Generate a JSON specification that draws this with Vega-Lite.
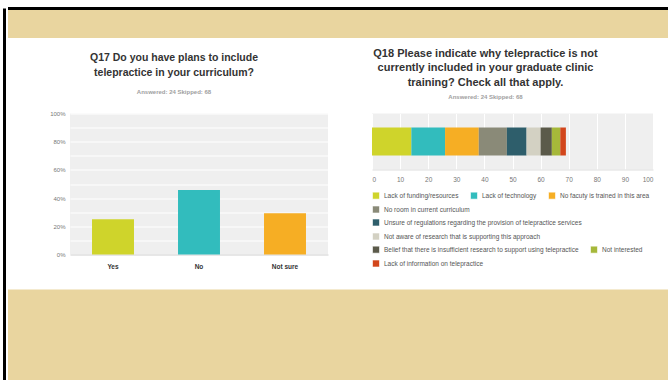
{
  "$schema": "https://vega.github.io/schema/vega-lite/v6.json",
  "background": "white",
  "padding": {"left": 3, "top": 6.5, "right": 0, "bottom": 0},
  "spacing": 0,
  "config": {
    "font": "Liberation Sans",
    "view": {"stroke": null},
    "legend": {
      "symbolType": "square",
      "symbolSize": 49,
      "symbolStrokeWidth": 0.6,
      "symbolStrokeColor": "white",
      "symbolOpacity": 1,
      "labelFontSize": 6.5,
      "labelColor": "#555555",
      "labelFont": "Liberation Sans",
      "labelLimit": 0,
      "labelOffset": 4,
      "columnPadding": 10,
      "padding": 0,
      "title": null
    }
  },
  "hconcat": [
    {
      "width": 3,
      "height": 380,
      "data": {"values": []},
      "mark": "point",
      "view": {"fill": "black", "stroke": null}
    },
    {
      "spacing": 8,
      "vconcat": [
        {
          "width": 662,
          "height": 29.5,
          "data": {"values": []},
          "mark": "point",
          "view": {"fill": "#e9d59f", "stroke": "black", "strokeWidth": 3, "strokeDash": [662, 721]}
        },
        {
          "spacing": 40,
          "hconcat": [
            {
              "width": 1,
              "height": 1,
              "data": {"values": []},
              "mark": "point"
            },
            {
              "width": 258,
              "height": 141,
              "view": {"fill": "#efefef", "stroke": null},
              "title": {
                "text": ["Q17 Do you have plans to include", "telepractice in your curriculum?"],
                "subtitle": "Answered: 24    Skipped: 68",
                "font": "Liberation Sans",
                "fontSize": 10.5,
                "fontWeight": "bold",
                "color": "#333333",
                "lineHeight": 15,
                "subtitleFont": "Liberation Sans",
                "subtitleFontSize": 6,
                "subtitleFontWeight": "bold",
                "subtitleColor": "#a0a0a0",
                "subtitlePadding": 10,
                "offset": 16,
                "dx": -25,
                "anchor": "middle"
              },
              "data": {"values": [
                {"answer": "Yes", "pct": 0.25},
                {"answer": "No", "pct": 0.4583},
                {"answer": "Not sure", "pct": 0.2917}
              ]},
              "mark": {"type": "bar"},
              "encoding": {
                "x": {
                  "field": "answer", "type": "nominal", "sort": null,
                  "scale": {"paddingInner": 0.512, "paddingOuter": 0.256},
                  "axis": {"title": null, "labelAngle": 0, "ticks": false, "domain": true, "domainColor": "#d0d0d0", "labelFontSize": 6.5, "labelFontWeight": "bold", "labelColor": "#333333", "labelPadding": 9}
                },
                "y": {
                  "field": "pct", "type": "quantitative",
                  "scale": {"domain": [0, 1]},
                  "axis": {"title": null, "values": [0, 0.1, 0.2, 0.3, 0.4, 0.5, 0.6, 0.7, 0.8, 0.9, 1], "format": ".0%", "labelExpr": "round(datum.value*10) % 2 == 0 ? datum.label : ''", "ticks": false, "domain": false, "gridColor": "white", "gridWidth": 1, "labelFontSize": 6, "labelColor": "#777777", "labelPadding": 5}
                },
                "color": {
                  "field": "answer", "type": "nominal", "legend": null,
                  "scale": {"domain": ["Yes", "No", "Not sure"], "range": ["#cfd42b", "#32bcbd", "#f6ae24"]}
                }
              }
            },
            {
              "width": 281,
              "height": 56,
              "view": {"fill": "#efefef", "stroke": null},
              "title": {
                "text": ["Q18 Please indicate why telepractice is not", "currently included in your graduate clinic", "training? Check all that apply."],
                "subtitle": "Answered: 24    Skipped: 68",
                "font": "Liberation Sans",
                "fontSize": 11,
                "fontWeight": "bold",
                "color": "#333333",
                "lineHeight": 14.5,
                "subtitleFont": "Liberation Sans",
                "subtitleFontSize": 6,
                "subtitleFontWeight": "bold",
                "subtitleColor": "#a0a0a0",
                "subtitlePadding": 6,
                "offset": 14,
                "dx": -27,
                "anchor": "middle"
              },
              "data": {"values": [
                {"q": "Q18", "reason": "Lack of funding/resources", "value": 14},
                {"q": "Q18", "reason": "Lack of technology", "value": 12},
                {"q": "Q18", "reason": "No facuty is trained in this area", "value": 12},
                {"q": "Q18", "reason": "No room in current curriculum", "value": 10},
                {"q": "Q18", "reason": "Unsure of regulations regarding the provision of telepractice services", "value": 7},
                {"q": "Q18", "reason": "Not aware of research that is supporting this approach", "value": 5},
                {"q": "Q18", "reason": "Belief that there is insufficient research to support using telepractice", "value": 4},
                {"q": "Q18", "reason": "Not interested", "value": 3},
                {"q": "Q18", "reason": "Lack of information on telepractice", "value": 2}
              ]},
              "transform": [
                {"stack": "value", "groupby": ["q"], "as": ["x0", "x1"]}
              ],
              "encoding": {
                "x": {
                  "field": "x0", "type": "quantitative",
                  "scale": {"domain": [0, 100]},
                  "axis": {"title": null, "values": [0, 10, 20, 30, 40, 50, 60, 70, 80, 90, 100], "ticks": false, "domainColor": "#dddddd", "gridColor": "white", "gridWidth": 1, "labelFontSize": 6.5, "labelColor": "#777777", "labelPadding": 7}
                },
                "x2": {"field": "x1"},
                "y": {"field": "q", "type": "nominal", "scale": {"paddingInner": 0, "paddingOuter": 0.5},
                  "axis": {"title": null, "labels": false, "domain": false, "grid": false, "ticks": true, "tickSize": 4, "tickOpacity": 0}}
              },
              "layer": [
                {
                  "transform": [{"filter": {"field": "reason", "oneOf": ["Lack of funding/resources", "Lack of technology", "No facuty is trained in this area"]}}],
                  "mark": "bar",
                  "encoding": {"color": {"field": "reason", "type": "nominal", "scale": {"domain": ["Lack of funding/resources", "Lack of technology", "No facuty is trained in this area"], "range": ["#cfd42b", "#32bcbd", "#f6ae24"]}, "legend": {"orient": "none", "direction": "horizontal", "legendX": 0, "legendY": 78}}}
                },
                {
                  "transform": [{"filter": {"field": "reason", "equal": "No room in current curriculum"}}],
                  "mark": "bar",
                  "encoding": {"color": {"field": "reason", "type": "nominal", "scale": {"domain": ["No room in current curriculum"], "range": ["#8a8a78"]}, "legend": {"orient": "none", "legendX": 0, "legendY": 92}}}
                },
                {
                  "transform": [{"filter": {"field": "reason", "equal": "Unsure of regulations regarding the provision of telepractice services"}}],
                  "mark": "bar",
                  "encoding": {"color": {"field": "reason", "type": "nominal", "scale": {"domain": ["Unsure of regulations regarding the provision of telepractice services"], "range": ["#2e5e6b"]}, "legend": {"orient": "none", "legendX": 0, "legendY": 105}}}
                },
                {
                  "transform": [{"filter": {"field": "reason", "equal": "Not aware of research that is supporting this approach"}}],
                  "mark": "bar",
                  "encoding": {"color": {"field": "reason", "type": "nominal", "scale": {"domain": ["Not aware of research that is supporting this approach"], "range": ["#d3d1c3"]}, "legend": {"orient": "none", "legendX": 0, "legendY": 119}}}
                },
                {
                  "transform": [{"filter": {"field": "reason", "oneOf": ["Belief that there is insufficient research to support using telepractice", "Not interested"]}}],
                  "mark": "bar",
                  "encoding": {"color": {"field": "reason", "type": "nominal", "scale": {"domain": ["Belief that there is insufficient research to support using telepractice", "Not interested"], "range": ["#5b5a4a", "#a6b83a"]}, "legend": {"orient": "none", "direction": "horizontal", "legendX": 0, "legendY": 132}}}
                },
                {
                  "transform": [{"filter": {"field": "reason", "equal": "Lack of information on telepractice"}}],
                  "mark": "bar",
                  "encoding": {"color": {"field": "reason", "type": "nominal", "scale": {"domain": ["Lack of information on telepractice"], "range": ["#d2461c"]}, "legend": {"orient": "none", "legendX": 0, "legendY": 146}}}
                }
              ],
              "resolve": {"scale": {"color": "independent"}}
            }
          ]
        },
        {
          "width": 662,
          "height": 100,
          "title": {"text": " ", "fontSize": 2, "offset": 9},
          "data": {"values": []},
          "mark": "point",
          "view": {"fill": "#e9d59f", "stroke": null}
        }
      ]
    }
  ]
}
